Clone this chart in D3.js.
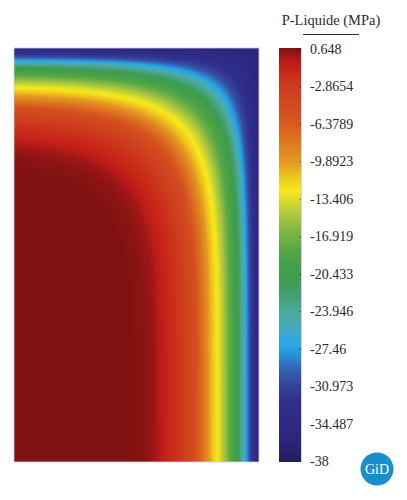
<!DOCTYPE html>
<html>
<head>
<meta charset="utf-8">
<script src="https://cdn.jsdelivr.net/npm/d3@7"></script>
<style>
  body { margin: 0; background: #fff; }
  text { font-family: "Liberation Serif", "DejaVu Serif", serif; }
</style>
</head>
<body>
<div id="chart"></div>
<script>
// section geometry (mm)
const domainWidth = 245;
const domainHeight = 414;

// liquid pressure read along the right face, by depth into the section (mm -> MPa)
const profileDepth    = [0, 4, 9, 13, 16, 21, 29, 35, 41, 47, 54, 64, 79, 91, 104, 114, 130, 245];
const profilePressure = [-36, -33.5, -30.5, -27.3, -24.5, -21, -18, -15, -12.8, -11, -8.5, -5, -2.5, -1.3, 0, 0.4, 0.648, 0.648];

// legend
const legendTitle = 'P-Liquide (MPa)';
const tickValues = [0.648, -2.8654, -6.3789, -9.8923, -13.406, -16.919, -20.433, -23.946, -27.46, -30.973, -34.487, -38];
const tickLabels = ['0.648', '-2.8654', '-6.3789', '-9.8923', '-13.406', '-16.919', '-20.433', '-23.946', '-27.46', '-30.973', '-34.487', '-38'];

// colour map
const colorValues = [0.648, 0.1, -0.4, -1.3, -2.7, -4.1, -6.0, -7.4, -8.8, -9.9, -10.9, -11.8, -12.6, -13.5, -14.5, -15.6, -16.8, -18.2, -19.6, -21.0, -22.4, -23.8, -25.2, -26.2, -27.1, -28.1, -29.0, -29.9, -31.3, -32.3, -34.2, -36, -38];
const colorRange  = ['#7f1211', '#9a1616', '#b81a18', '#c82418', '#cc3a1c', '#d0461e', '#d6561e', '#dc6c20', '#e08420', '#e49a20', '#ecb81e', '#f2d41c', '#f7e71a', '#dcdc2a', '#b8cc3a', '#98c040', '#78b444', '#58a844', '#44a048', '#3e9c50', '#44a070', '#4aa898', '#48aab0', '#38a8d0', '#28a8e4', '#2890d8', '#3070c0', '#3456a8', '#323c98', '#30308c', '#2e2a86', '#2c267c', '#241c60'];

// decay lengths used to combine the top and right faces (mm)
const Lx = 150, Ly = 140;

function erf(x) {
    // Abramowitz & Stegun 7.1.26
    const t = 1 / (1 + 0.3275911 * x);
    const y = 1 - (((((1.061405429 * t - 1.453152027) * t) + 1.421413741) * t - 0.284496736) * t + 0.254829592) * t * Math.exp(-x * x);
    return y;
}

const W = 407, H = 500;
const svg = d3.select('#chart').append('svg')
    .attr('width', W)
    .attr('height', H);

const xScale = d3.scaleLinear().domain([0, domainWidth]).range([14, 259]);
const yScale = d3.scaleLinear().domain([0, domainHeight]).range([48, 462]);

const color = d3.scaleLinear()
    .domain(colorValues.slice().reverse())
    .range(colorRange.slice().reverse())
    .interpolate(d3.interpolateRgb)
    .clamp(true);

// pressure as a function of the combined drying index
const pressureOf = d3.scaleLinear()
    .domain(profileDepth.map(d => erf(d / Lx)))
    .range(profilePressure)
    .clamp(true);

// draw the field into a canvas, then put it in the svg
const px0 = Math.round(xScale(0)), px1 = Math.round(xScale(domainWidth));
const py0 = Math.round(yScale(0)), py1 = Math.round(yScale(domainHeight));
const cw = px1 - px0, ch = py1 - py0;
const canvas = document.createElement('canvas');
canvas.width = cw;
canvas.height = ch;
const ctx = canvas.getContext('2d');
const img = ctx.createImageData(cw, ch);
for (let j = 0; j < ch; j++) {
    const dy = yScale.invert(py0 + j + 0.5);
    const uy = erf(dy / Ly);
    for (let i = 0; i < cw; i++) {
        const dx = domainWidth - xScale.invert(px0 + i + 0.5);
        const u = erf(dx / Lx) * uy;
        const c = d3.rgb(color(pressureOf(u)));
        const k = (j * cw + i) * 4;
        img.data[k] = c.r;
        img.data[k + 1] = c.g;
        img.data[k + 2] = c.b;
        img.data[k + 3] = 255;
    }
}
ctx.putImageData(img, 0, 0);

svg.append('image')
    .attr('x', px0)
    .attr('y', py0)
    .attr('width', cw)
    .attr('height', ch)
    .attr('href', canvas.toDataURL());

svg.append('rect')
    .attr('x', px0)
    .attr('y', py0)
    .attr('width', cw)
    .attr('height', ch)
    .attr('fill', 'none')
    .attr('stroke', '#cfcde0')
    .attr('stroke-width', 0.8);

// legend bar
const barX = 279, barW = 22, barTop = 48, barBottom = 462;
const cbScale = d3.scaleLinear().domain([0.648, -38]).range([49, 461]);

const grad = svg.append('defs').append('linearGradient')
    .attr('id', 'cbar')
    .attr('x1', 0).attr('y1', 0)
    .attr('x2', 0).attr('y2', 1);
grad.selectAll('stop')
    .data(colorValues)
    .enter().append('stop')
    .attr('offset', d => (cbScale(d) - barTop) / (barBottom - barTop))
    .attr('stop-color', (d, i) => colorRange[i]);

svg.append('rect')
    .attr('x', barX)
    .attr('y', barTop)
    .attr('width', barW)
    .attr('height', barBottom - barTop)
    .attr('fill', 'url(#cbar)');

svg.append('line')
    .attr('x1', barX + barW + 0.5).attr('x2', barX + barW + 0.5)
    .attr('y1', barTop).attr('y2', barBottom)
    .attr('stroke', '#d6d4e6')
    .attr('stroke-width', 1);

const axis = d3.axisRight(cbScale)
    .tickValues(tickValues)
    .tickFormat((d, i) => tickLabels[i])
    .tickSizeInner(-2)
    .tickSizeOuter(0)
    .tickPadding(9);

const ag = svg.append('g')
    .attr('transform', `translate(${barX + barW},0)`)
    .call(axis);
ag.select('.domain').remove();
ag.selectAll('.tick line')
    .attr('stroke', '#000')
    .attr('stroke-opacity', 0.35);
ag.selectAll('.tick text')
    .attr('fill', '#2a2a2a')
    .style('font-size', '14px')
    .style('font-family', '"Liberation Serif", "DejaVu Serif", serif');

// legend title
svg.append('text')
    .attr('x', 331)
    .attr('y', 25)
    .attr('text-anchor', 'middle')
    .attr('fill', '#2a2a2a')
    .style('font-size', '14.5px')
    .text(legendTitle);

svg.append('line')
    .attr('x1', 303).attr('x2', 359)
    .attr('y1', 34.5).attr('y2', 34.5)
    .attr('stroke', '#333')
    .attr('stroke-width', 1);

// GiD badge
svg.append('circle')
    .attr('cx', 377)
    .attr('cy', 469)
    .attr('r', 16.5)
    .attr('fill', '#1a8dcd');

svg.append('text')
    .attr('x', 377)
    .attr('y', 474)
    .attr('text-anchor', 'middle')
    .attr('fill', '#fff')
    .style('font-size', '14px')
    .text('GiD');
</script>
</body>
</html>
